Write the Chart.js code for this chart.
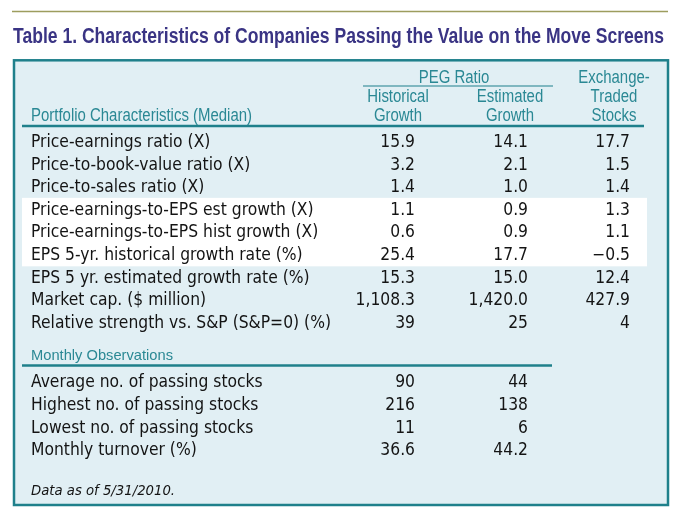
<!DOCTYPE html>
<html>
<head>
<meta charset="utf-8">
<script src="https://cdn.jsdelivr.net/npm/chart.js@4.4.1/dist/chart.umd.min.js"></script>
<style>
  html, body { margin: 0; padding: 0; background: #fff; }
  canvas { display: block; }
</style>
</head>
<body>
<canvas id="tableChart" width="682" height="512"></canvas>
<script>
const titleText = 'Table 1. Characteristics of Companies Passing the Value on the Move Screens';
const sectionHead = 'Portfolio Characteristics (Median)';
const groupHead = 'PEG Ratio';
const columnHeads = [['Historical', 'Growth'], ['Estimated', 'Growth'], ['Exchange-', 'Traded', 'Stocks']];

const rowLabels = [
    'Price-earnings ratio (X)',
    'Price-to-book-value ratio (X)',
    'Price-to-sales ratio (X)',
    'Price-earnings-to-EPS est growth (X)',
    'Price-earnings-to-EPS hist growth (X)',
    'EPS 5-yr. historical growth rate (%)',
    'EPS 5 yr. estimated growth rate (%)',
    'Market cap. ($ million)',
    'Relative strength vs. S&P (S&P=0) (%)'
];
const histGrowth = [15.9, 3.2, 1.4, 1.1, 0.6, 25.4, 15.3, 1108.3, 39];
const estGrowth = [14.1, 2.1, 1.0, 0.9, 0.9, 17.7, 15.0, 1420.0, 25];
const etfStocks = [17.7, 1.5, 1.4, 1.3, 1.1, -0.5, 12.4, 427.9, 4];
const rowDecimals = [1, 1, 1, 1, 1, 1, 1, 1, 0];
const highlightRows = [3, 4, 5];

const monthlyHead = 'Monthly Observations';
const monthlyLabels = [
    'Average no. of passing stocks',
    'Highest no. of passing stocks',
    'Lowest no. of passing stocks',
    'Monthly turnover (%)'
];
const monthlyHist = [90, 216, 11, 36.6];
const monthlyEst = [44, 138, 6, 44.2];
const monthlyDecimals = [0, 0, 0, 1];

const footNote = 'Data as of 5/31/2010.';

// layout (pixels for x, row units for y)
const labelX = 31;
const colRight = [415, 528, 630];
const colCenter = [398, 510, 614];
const rowPitch = 22.6;
const firstBaseline = 147;
const monthlyStart = 10.64;

const TEAL = '#1f808b';
const TEAL_TEXT = '#2a8894';
const INK = '#141414';

function fmt(v, d) {
    return v.toLocaleString('en-US', { minimumFractionDigits: d, maximumFractionDigits: d }).replace('-', '\u2212');
}

function column(values, decimals, x, start) {
    return values.map((v, i) => ({ x: x, y: start + i, text: fmt(v, decimals[i]) }));
}

function labelColumn(labels, start) {
    return labels.map((t, i) => ({ x: labelX, y: start + i, text: t }));
}

const datasets = [
    { data: labelColumn(rowLabels, 0), align: 'left' },
    { data: column(histGrowth, rowDecimals, colRight[0], 0), align: 'right' },
    { data: column(estGrowth, rowDecimals, colRight[1], 0), align: 'right' },
    { data: column(etfStocks, rowDecimals, colRight[2], 0), align: 'right' },
    { data: labelColumn(monthlyLabels, monthlyStart), align: 'left' },
    { data: column(monthlyHist, monthlyDecimals, colRight[0], monthlyStart), align: 'right' },
    { data: column(monthlyEst, monthlyDecimals, colRight[1], monthlyStart), align: 'right' }
];

const fonts = {
    body: '17px "DejaVu Sans Condensed", "DejaVu Sans", sans-serif',
    head: '17.5px "Liberation Sans Narrow", "Liberation Sans", sans-serif',
    small: '15px "Liberation Sans Narrow", "Liberation Sans", sans-serif',
    note: 'italic 14px "DejaVu Sans Condensed", "DejaVu Sans", sans-serif',
    title: 'bold 22px "Liberation Sans Narrow", "Liberation Sans", sans-serif'
};

function fit(ctx, font, ref, width) {
    ctx.font = font;
    return width / ctx.measureText(ref).width;
}

function text(ctx, str, x, y, font, sx, color, align) {
    ctx.save();
    ctx.translate(x, y);
    ctx.scale(sx, 1);
    ctx.font = font;
    ctx.textAlign = align || 'left';
    ctx.textBaseline = 'alphabetic';
    ctx.fillStyle = color;
    ctx.fillText(str, 0, 0);
    ctx.restore();
}

function rule(ctx, x1, x2, y, w, color) {
    ctx.save();
    ctx.strokeStyle = color;
    ctx.lineWidth = w;
    ctx.beginPath();
    ctx.moveTo(x1, y);
    ctx.lineTo(x2, y);
    ctx.stroke();
    ctx.restore();
}

const tablePlugin = {
    id: 'tableDraw',
    beforeDraw(chart) {
        const ctx = chart.ctx;
        const y = chart.scales.y;
        ctx.save();
        ctx.fillStyle = '#ffffff';
        ctx.fillRect(0, 0, chart.width, chart.height);

        rule(ctx, 12, 668, 11.5, 1.3, '#9d9d5e');
        const sTitle = fit(ctx, fonts.title, titleText, 651);
        text(ctx, titleText, 13, 43, fonts.title, sTitle, '#3a3484');

        ctx.fillStyle = '#e1eff4';
        ctx.fillRect(14, 60, 654, 445);

        const top = y.getPixelForValue(highlightRows[0] - 0.75);
        const bottom = y.getPixelForValue(highlightRows[highlightRows.length - 1] + 0.28);
        ctx.fillStyle = '#ffffff';
        ctx.fillRect(22, top, 625, bottom - top);

        ctx.strokeStyle = TEAL;
        ctx.lineWidth = 2.5;
        ctx.strokeRect(14, 60.3, 654, 444.7);
        ctx.restore();
    },
    afterDatasetsDraw(chart) {
        const ctx = chart.ctx;
        const x = chart.scales.x;
        const sHead = fit(ctx, fonts.head, sectionHead, 221);
        const sSmall = fit(ctx, fonts.small, monthlyHead, 142);
        const sBody = fit(ctx, fonts.body, rowLabels[8], 300);
        const sNote = fit(ctx, fonts.note, footNote, 144);

        // column headings
        text(ctx, groupHead, (x.getPixelForValue(colCenter[0]) + x.getPixelForValue(colCenter[1])) / 2, 83.3, fonts.head, sHead, TEAL_TEXT, 'center');
        rule(ctx, 363, 553, 86, 1.2, TEAL);
        columnHeads.forEach((lines, c) => {
            const cx = x.getPixelForValue(colCenter[c]);
            const base = 120.7 - (lines.length - 1) * 18.7;
            lines.forEach((ln, k) => text(ctx, ln, cx, base + k * 18.7, fonts.head, sHead, TEAL_TEXT, 'center'));
        });
        text(ctx, sectionHead, labelX, 121, fonts.head, sHead, TEAL_TEXT, 'left');
        rule(ctx, 22, 644, 126, 2.5, TEAL);

        text(ctx, monthlyHead, labelX, 360, fonts.small, sSmall, TEAL_TEXT, 'left');
        rule(ctx, 22, 552, 365.5, 2.5, TEAL);

        // cells
        chart.data.datasets.forEach((ds, d) => {
            chart.getDatasetMeta(d).data.forEach((el, i) => {
                text(ctx, ds.data[i].text, el.x, el.y, fonts.body, sBody, INK, ds.align);
            });
        });

        text(ctx, footNote, labelX, 494.5, fonts.note, sNote, INK, 'left');
    }
};

new Chart(document.getElementById('tableChart'), {
    type: 'scatter',
    data: { datasets: datasets },
    options: {
        responsive: false,
        animation: false,
        events: [],
        layout: { padding: 0 },
        elements: { point: { radius: 0, hoverRadius: 0 } },
        plugins: { legend: { display: false }, tooltip: { enabled: false } },
        scales: {
            x: { type: 'linear', display: false, min: 0, max: 682 },
            y: {
                type: 'linear', display: false, reverse: true,
                min: -firstBaseline / rowPitch,
                max: (512 - firstBaseline) / rowPitch
            }
        }
    },
    plugins: [tablePlugin]
});
</script>
</body>
</html>
